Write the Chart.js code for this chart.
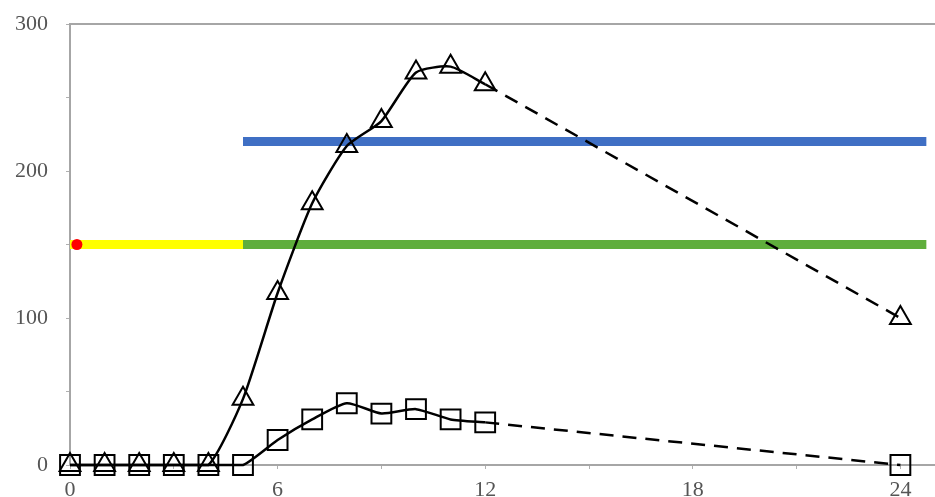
<!DOCTYPE html>
<html>
<head>
<meta charset="utf-8">
<script src="https://cdn.jsdelivr.net/npm/chart.js@4.4.1/dist/chart.umd.min.js"></script>
<style>
  html, body { margin: 0; padding: 0; background: #fff; }
  #wrap { width: 935px; height: 497px; }
</style>
</head>
<body>
<div id="wrap"><canvas id="chart" width="935" height="497"></canvas></div>
<script>
// Data
const hours = [0, 1, 2, 3, 4, 5, 6, 7, 8, 9, 10, 11, 12, 24];
const triangleValues = [0, 0, 0, 0, 0, 45, 117, 178, 217, 234, 267, 271, 259, 100];
const squareValues = [0, 0, 0, 0, 0, 0, 17, 31, 42, 35, 38, 31, 29, 0];

// Reference levels (horizontal bands)
const lowLevel = 150;
const highLevel = 220;
const yellowRange = [0, 5];
const greenRange = [5, 24.75];
const blueRange = [5, 24.75];
const redPoint = [0.2, 150];

// Axis ticks
const xTicks = [0, 3, 6, 9, 12, 15, 18, 21, 24];
const xLabels = [0, 6, 12, 18, 24];
const yTicks = [0, 50, 100, 150, 200, 250, 300];
const yLabels = [0, 100, 200, 300];

const solidEnd = hours.indexOf(12);

function toPoints(values, from, to) {
    const pts = [];
    for (let i = from; i <= to; i++) {
        pts.push({ x: hours[i], y: values[i] });
    }
    return pts;
}

function band(range, level) {
    return [{ x: range[0], y: level }, { x: range[1], y: level }];
}

const last = hours.length - 1;
const markerStyle = {
    borderColor: '#000',
    backgroundColor: 'rgba(0,0,0,0)',
    pointBorderColor: '#000',
    pointBackgroundColor: 'rgba(0,0,0,0)',
    pointBorderWidth: 2,
    borderWidth: 2.5,
    clip: false,
    order: 0
};

const ctx = document.getElementById('chart').getContext('2d');
const tickFont = { family: '"Liberation Serif", "DejaVu Serif", serif', size: 22 };

new Chart(ctx, {
    type: 'line',
    data: {
        datasets: [
            // triangles, solid smooth part
            Object.assign({}, markerStyle, {
                data: toPoints(triangleValues, 0, solidEnd),
                pointStyle: 'triangle',
                pointRadius: 12,
                tension: 0.2
            }),
            // triangles, dashed tail
            Object.assign({}, markerStyle, {
                data: toPoints(triangleValues, solidEnd, last),
                pointStyle: 'triangle',
                pointRadius: [0, 12],
                borderDash: [14, 9]
            }),
            // squares, solid smooth part
            Object.assign({}, markerStyle, {
                data: toPoints(squareValues, 0, solidEnd),
                pointStyle: 'rect',
                pointRadius: 14,
                tension: 0.2
            }),
            // squares, dashed tail
            Object.assign({}, markerStyle, {
                data: toPoints(squareValues, solidEnd, last),
                pointStyle: 'rect',
                pointRadius: [0, 14],
                borderDash: [14, 9]
            }),
            {
                data: [{ x: redPoint[0], y: redPoint[1] }],
                pointStyle: 'circle',
                pointRadius: 5.5,
                pointBackgroundColor: '#ff0000',
                pointBorderWidth: 0,
                showLine: false,
                order: 1
            },
            {
                data: band(yellowRange, lowLevel),
                borderColor: '#ffff00',
                borderWidth: 9,
                pointRadius: 0,
                order: 2
            },
            {
                data: band(greenRange, lowLevel),
                borderColor: '#5fae3c',
                borderWidth: 9,
                pointRadius: 0,
                order: 2
            },
            {
                data: band(blueRange, highLevel),
                borderColor: '#3f6fc4',
                borderWidth: 9,
                pointRadius: 0,
                order: 2
            }
        ]
    },
    options: {
        responsive: false,
        animation: false,
        layout: { autoPadding: false, padding: { top: 24, right: 0, left: 0, bottom: 0 } },
        plugins: {
            legend: { display: false },
            tooltip: { enabled: false }
        },
        scales: {
            x: {
                type: 'linear',
                min: 0,
                max: 25,
                afterBuildTicks: function(scale) {
                    scale.ticks = xTicks.map(v => ({ value: v }));
                },
                afterFit: function(scale) {
                    scale.height = 32;
                    scale.paddingLeft = 0;
                    scale.paddingRight = 0;
                },
                border: { display: true, color: '#a6a6a6', width: 2 },
                grid: { drawOnChartArea: false, drawTicks: true, tickLength: 4, color: '#b0b0b0' },
                ticks: {
                    autoSkip: false,
                    maxRotation: 0,
                    padding: 8,
                    color: '#555',
                    font: tickFont,
                    callback: function(v) { return xLabels.includes(v) ? v : ''; }
                }
            },
            xTop: {
                type: 'linear',
                position: 'top',
                min: 0,
                max: 25,
                afterFit: function(scale) { scale.height = 0; },
                border: { display: true, color: '#a6a6a6', width: 2 },
                grid: { display: false },
                ticks: { display: false }
            },
            y: {
                min: 0,
                max: 300,
                afterBuildTicks: function(scale) {
                    scale.ticks = yTicks.map(v => ({ value: v }));
                },
                afterFit: function(scale) {
                    scale.width = 70;
                    scale.paddingTop = 0;
                    scale.paddingBottom = 0;
                },
                border: { display: true, color: '#a6a6a6', width: 2 },
                grid: { drawOnChartArea: false, drawTicks: true, tickLength: 4, color: '#b0b0b0' },
                ticks: {
                    padding: 18,
                    color: '#555',
                    font: tickFont,
                    callback: function(v) { return yLabels.includes(v) ? v : ''; }
                }
            }
        }
    }
});
</script>
</body>
</html>
